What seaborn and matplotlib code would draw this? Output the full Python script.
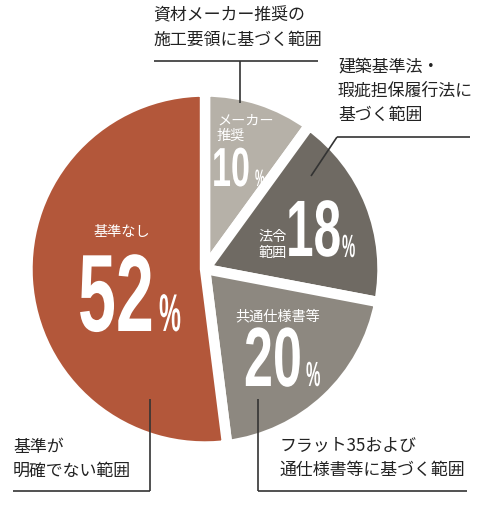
import matplotlib
matplotlib.use("Agg")
import matplotlib.pyplot as plt
import seaborn as sns
from matplotlib import font_manager
from matplotlib.patheffects import AbstractPathEffect
from matplotlib.transforms import Affine2D

# データ
shares = [10, 18, 20, 52]
inner_labels = ["メーカー\n推奨", "法令\n範囲", "共通仕様書等", "基準なし"]
outer_labels = ["資材メーカー推奨の\n施工要領に基づく範囲",
                "建築基準法・\n瑕疵担保履行法に\n基づく範囲",
                "フラット35および\n通仕様書等に基づく範囲",
                "基準が\n明確でない範囲"]
colors = ["#b6b1a8", "#6f6a63", "#8d8880", "#b3573a"]

sns.set_theme(style="white")
plt.rcParams['font.family'] = ['Noto Sans CJK JP', 'DejaVu Sans']

# 数字用の細長いフォント
names = {f.name for f in font_manager.fontManager.ttflist}
if "Liberation Sans Narrow" in names:
    num_font, squeeze = "Liberation Sans Narrow", 0.76
else:
    num_font, squeeze = "Liberation Sans", 0.62


class Squeeze(AbstractPathEffect):
    # 文字を横方向に縮める
    def __init__(self, sx):
        super().__init__()
        self.sx = sx

    def draw_path(self, renderer, gc, tpath, affine, rgbFace=None):
        x0, y0 = affine.transform((0, 0))
        t = affine + Affine2D().translate(-x0, -y0).scale(self.sx, 1).translate(x0, y0)
        renderer.draw_path(gc, tpath, t, rgbFace)


W, H = 479, 506
fig = plt.figure(figsize=(W / 100, H / 100), dpi=100)
ax = fig.add_axes([0, 0, 1, 1])

ax.pie(shares, colors=colors, startangle=90, counterclock=False,
       center=(205, H - 270), radius=177.5,
       wedgeprops=dict(edgecolor="white", linewidth=7.5))
ax.set_xlim(0, W)
ax.set_ylim(0, H)
ax.set_aspect("equal")
ax.axis("off")


def Y(y):
    return H - y


# 円の中のラベル
inner_pos = [(217, 128), (258, 245), (235, 316), (93, 232)]
for (x, y), lab in zip(inner_pos, inner_labels):
    ax.text(x, Y(y), lab, color="white", fontsize=10.2, ha="left", va="center",
            linespacing=1.15)

# 大きい数字
num_pos = [(212, 187, 55, 255, 187, 17), (286, 257, 80, 342, 258, 23),
           (244, 387, 84, 306, 387, 25), (78, 332, 110, 159, 332, 38)]
for (x, y, size_px, px, py, psize), v in zip(num_pos, shares):
    ax.text(x, Y(y), str(v), color="white", fontsize=size_px * 0.72,
            family=num_font, fontweight="bold", ha="left", va="baseline",
            path_effects=[Squeeze(squeeze)])
    ax.text(px, Y(py), "%", color="white", fontsize=psize / 0.716 * 0.72,
            family=num_font, fontweight="bold", ha="left", va="baseline",
            path_effects=[Squeeze(squeeze * 0.75)])

# 外側のラベル
outer_pos = [(153, 28), (338, 91), (280, 458), (13, 459)]
for (x, y), lab in zip(outer_pos, outer_labels):
    ax.text(x, Y(y), lab, color="#222222", fontsize=12.2, ha="left", va="center",
            linespacing=1.45)

# 引き出し線
lc = dict(color="#333333", lw=1.2, solid_capstyle="butt")
ax.plot([154, 318], [Y(62), Y(62)], **lc)
ax.plot([240, 240], [Y(62), Y(104)], **lc)
ax.plot([337, 470], [Y(138), Y(138)], **lc)
ax.plot([337, 311], [Y(138), Y(177)], **lc)
ax.plot([13, 150], [Y(492), Y(492)], **lc)
ax.plot([150, 150], [Y(492), Y(400)], **lc)
ax.plot([258, 467], [Y(492), Y(492)], **lc)
ax.plot([258, 258], [Y(492), Y(400)], **lc)

fig.savefig("out.png", dpi=100)
